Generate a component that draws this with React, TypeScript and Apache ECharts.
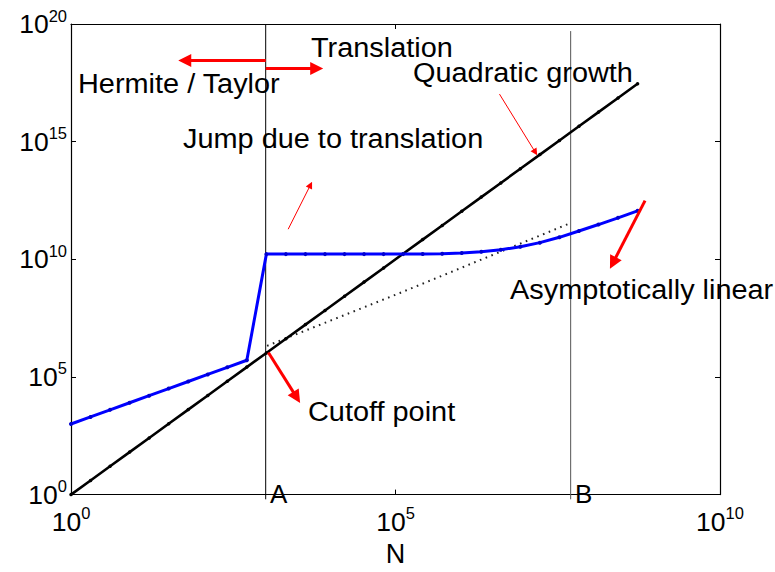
import React, { useEffect, useRef } from "react";
import * as echarts from "echarts";

// Problem size N (powers of two)
const N = [1, 2, 4, 8, 16, 32, 64, 128, 256, 512, 1024, 2048, 4096, 8192, 16384, 32768, 65536, 131072, 262144, 524288, 1048576, 2097152, 4194304, 8388608, 16777216, 33554432, 67108864, 134217728, 268435456, 536870912];
// Black curve: quadratic growth
const quadraticCost = [1, 4, 16, 64, 256, 1024, 4096, 16384, 65536, 262144, 1048576, 4194304, 16777216, 67108864, 268435456, 1073741824, 4.295e9, 1.718e10, 6.872e10, 2.749e11, 1.0995e12, 4.398e12, 1.759e13, 7.037e13, 2.815e14, 1.126e15, 4.504e15, 1.801e16, 7.206e16, 2.882e17];
// Blue curve
const blueCost = [1000, 2000, 4000, 8000, 16000, 32000, 64000, 128000, 256000, 512000, 1.66e10, 1.66e10, 1.66e10, 1.66e10, 1.66e10, 1.66e10, 1.66e10, 1.66e10, 1.68e10, 1.72e10, 1.85e10, 2.1e10, 2.55e10, 3.4e10, 5.1e10, 8.6e10, 1.6e11, 3.0e11, 5.8e11, 1.15e12];
// Dotted reference line
const dottedN = [1050, 117000, 5e7];
const dottedCost = [2.1e6, 3.7e8, 3.5e11];
// Vertical markers
const markerA = 1000;
const markerB = 5e7;
// Tick setup
const xRange = [1, 1e10];
const yRange = [1, 1e20];
const decadeStep = 5;

// Arrows [from, to] in data coordinates
const thickArrows = [
  [[1000, 2.8e18], [56.6, 2.8e18]],
  [[1000, 1.3e18], [6100, 1.3e18]],
  [[1100, 1.1e6], [3000, 1.35e4]],
  [[7e8, 3.1e12], [2.24e8, 7e9]],
];
const thinArrows = [
  [[4e6, 1.05e17], [1.43e7, 3.5e14]],
  [[2220, 1.9e11], [4900, 1.45e13]],
];

const FONT = '"Liberation Sans", Arial, Helvetica, sans-serif';

export default function App() {
  const ref = useRef<HTMLDivElement>(null);
  useEffect(() => {
    if (!ref.current) return;
    const chart = echarts.init(ref.current, null, { renderer: "svg" });
    const rich = {
      b: { fontSize: 26.5, lineHeight: 34, fontFamily: FONT, color: "#000" },
      s: { fontSize: 16.5, lineHeight: 16, verticalAlign: "top", fontFamily: FONT, color: "#000" },
    };
    const fmt = (v: number) => `{b|10}{s|${Math.round(Math.log10(v))}}`;
    const axisLine = { show: true, lineStyle: { color: "#000", width: 1.2 } };
    const axisTick = { show: true, inside: true, length: 5, lineStyle: { color: "#000", width: 1 } };
    const annot = (text: string, x: number, y: number) => ({
      type: "text",
      x,
      y,
      scaleX: 1.07,
      z: 50,
      style: { text, fontSize: 27, fontFamily: FONT, fill: "#000", align: "left", verticalAlign: "middle" },
    });
    const letter = (text: string, x: number, y: number) => ({
      type: "text",
      x,
      y,
      z: 50,
      style: { text, fontSize: 26, fontFamily: FONT, fill: "#000", align: "left", verticalAlign: "middle" },
    });
    chart.setOption({
      animation: false,
      backgroundColor: "#fff",
      grid: { left: 71, top: 24, right: 55, bottom: 71, containLabel: false },
      xAxis: [
        {
          type: "log",
          logBase: 10,
          min: xRange[0],
          max: xRange[1],
          interval: decadeStep,
          position: "bottom",
          name: "N",
          nameLocation: "middle",
          nameGap: 42,
          nameTextStyle: { fontSize: 27, fontFamily: FONT, color: "#000" },
          axisLine,
          axisTick,
          minorTick: { show: false },
          splitLine: { show: false },
          axisLabel: { formatter: fmt, rich, margin: 10, color: "#000" },
        },
        {
          type: "log",
          logBase: 10,
          min: xRange[0],
          max: xRange[1],
          interval: decadeStep,
          position: "top",
          axisLine,
          axisTick,
          splitLine: { show: false },
          axisLabel: { show: false },
        },
      ],
      yAxis: [
        {
          type: "log",
          logBase: 10,
          min: yRange[0],
          max: yRange[1],
          interval: decadeStep,
          position: "left",
          axisLine,
          axisTick,
          splitLine: { show: false },
          axisLabel: { formatter: fmt, rich, margin: 4, color: "#000" },
        },
        {
          type: "log",
          logBase: 10,
          min: yRange[0],
          max: yRange[1],
          interval: decadeStep,
          position: "right",
          axisLine,
          axisTick,
          splitLine: { show: false },
          axisLabel: { show: false },
        },
      ],
      series: [
        {
          type: "line",
          name: "A",
          data: [[markerA, 0.63], [markerA, yRange[1]]],
          symbol: "none",
          clip: false,
          lineStyle: { color: "#000", width: 1 },
          z: 1,
        },
        {
          type: "line",
          name: "B",
          data: [[markerB, 0.63], [markerB, 5e19]],
          symbol: "none",
          clip: false,
          lineStyle: { color: "#555", width: 1 },
          z: 1,
        },
        {
          type: "line",
          name: "dotted",
          data: dottedN.map((n, i) => [n, dottedCost[i]]),
          symbol: "none",
          lineStyle: { color: "#222", width: 2, type: [1.6, 4.6] },
          z: 2,
        },
        {
          type: "line",
          name: "Quadratic growth",
          data: N.map((n, i) => [n, quadraticCost[i]]),
          symbol: "circle",
          symbolSize: 3.5,
          showSymbol: true,
          itemStyle: { color: "#000" },
          lineStyle: { color: "#000", width: 2.6 },
          z: 3,
        },
        {
          type: "line",
          name: "cost",
          data: N.map((n, i) => [n, blueCost[i]]),
          symbol: "circle",
          symbolSize: 4,
          showSymbol: true,
          itemStyle: { color: "#0000d0" },
          lineStyle: { color: "#0000ff", width: 3 },
          z: 4,
        },
        {
          type: "lines",
          coordinateSystem: "cartesian2d",
          symbol: ["none", "triangle"],
          symbolSize: 13,
          lineStyle: { color: "#ff0000", width: 3, opacity: 1, curveness: 0 },
          itemStyle: { color: "#ff0000" },
          data: thickArrows.map((c) => ({ coords: c })),
          z: 5,
        },
        {
          type: "lines",
          coordinateSystem: "cartesian2d",
          symbol: ["none", "triangle"],
          symbolSize: 7,
          lineStyle: { color: "#ff0000", width: 1, opacity: 1, curveness: 0 },
          itemStyle: { color: "#ff0000" },
          data: thinArrows.map((c) => ({ coords: c })),
          z: 5,
        },
      ],
      graphic: [
        annot("Hermite / Taylor", 78, 84),
        annot("Translation", 311, 48),
        annot("Quadratic growth", 413, 72.5),
        annot("Jump due to translation", 183, 139),
        annot("Asymptotically linear", 510, 290),
        annot("Cutoff point", 308, 412),
        letter("A", 270, 494),
        letter("B", 575, 494),
      ],
    });
    return () => chart.dispose();
  }, []);
  return (
    <div
      ref={ref}
      style={{ position: "fixed", left: 0, top: 0, width: 775, height: 572, background: "#fff" }}
    />
  );
}
